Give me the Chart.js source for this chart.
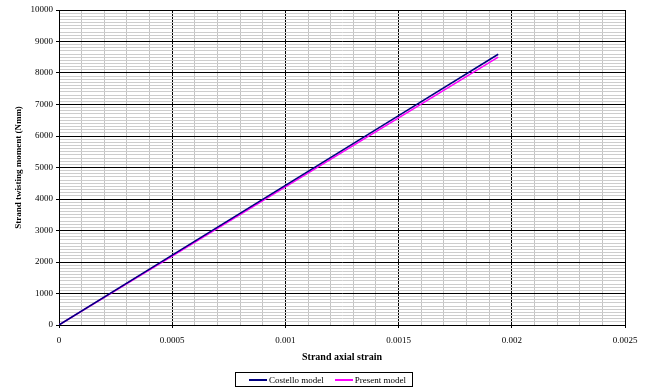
<!DOCTYPE html>
<html>
<head>
<meta charset="utf-8">
<script src="https://cdn.jsdelivr.net/npm/chart.js@4.4.1/dist/chart.umd.min.js"></script>
<style>
    html, body { margin: 0; padding: 0; background: #fff; }
    #wrap { position: relative; width: 648px; height: 390px; }
    #legend {
        position: absolute; left: 235px; top: 372px; width: 176px; height: 13px;
        border: 1px solid #000; font: 9px "Liberation Serif", "Times New Roman", serif;
        color: #000; display: flex; align-items: center; box-sizing: content-box;
    }
    .item { display: flex; align-items: center; }
    .swatch { display: inline-block; width: 18px; height: 0; border-top: 2px solid; margin-right: 2px; }
</style>
</head>
<body>
<div id="wrap">
    <canvas id="chart" width="648" height="390"></canvas>
    <div id="legend"></div>
</div>
<script>
// values
const strain = [0, 0.0005, 0.001, 0.0015, 0.00194];
const costello = [0, 2215, 4430, 6645, 8595];
const present = [0, 2190, 4385, 6575, 8505];
const seriesNames = ['Costello model', 'Present model'];
const seriesColors = ['#000080', '#ff00ff'];

const xMajor = 0.0005, xMinor = 0.0001;
const yMajor = 1000, yMinor = 100;

function isMajor(value, major, minor) {
    return Math.round(value / minor) % Math.round(major / minor) === 0;
}

function toPoints(xs, ys) {
    return xs.map((x, i) => ({ x: x, y: ys[i] }));
}

const serif = '"Liberation Serif", "Times New Roman", serif';

new Chart(document.getElementById('chart'), {
    type: 'scatter',
    data: {
        datasets: [costello, present].map((ys, i) => ({
            label: seriesNames[i],
            data: toPoints(strain, ys),
            showLine: true,
            borderColor: seriesColors[i],
            backgroundColor: seriesColors[i],
            borderWidth: 1.5,
            pointRadius: 0,
            tension: 0
        }))
    },
    options: {
        responsive: false,
        animation: false,
        layout: { padding: { top: 10, right: 23, bottom: 20, left: 0 } },
        plugins: { legend: { display: false }, tooltip: { enabled: false } },
        scales: {
            x: {
                type: 'linear',
                min: 0,
                max: 0.0025,
                afterFit: s => { s.height = 45; },
                border: { color: '#000', width: 1 },
                grid: {
                    color: c => isMajor(c.tick.value, xMajor, xMinor) ? '#000' : '#c4c4c4',
                    tickColor: c => isMajor(c.tick.value, xMajor, xMinor) ? '#000' : 'rgba(0,0,0,0)',
                    tickLength: 3
                },
                ticks: {
                    stepSize: xMinor,
                    autoSkip: false,
                    maxRotation: 0,
                    padding: 7,
                    color: '#000',
                    font: { family: serif, size: 9 },
                    callback: v => isMajor(v, xMajor, xMinor) ? String(Number(v.toFixed(4))) : ''
                },
                title: {
                    display: true,
                    text: 'Strand axial strain',
                    color: '#000',
                    font: { family: serif, size: 10, weight: 'bold' },
                    padding: { top: 0, bottom: 7 }
                }
            },
            y: {
                type: 'linear',
                min: 0,
                max: 10000,
                afterFit: s => { s.width = 59; },
                border: { color: '#000', width: 1 },
                grid: {
                    color: c => isMajor(c.tick.value, yMajor, yMinor) ? '#000' : '#cdcdcd',
                    tickColor: c => isMajor(c.tick.value, yMajor, yMinor) ? '#000' : 'rgba(0,0,0,0)',
                    tickLength: 3
                },
                ticks: {
                    stepSize: yMinor,
                    autoSkip: false,
                    padding: 3,
                    color: '#000',
                    font: { family: serif, size: 9 },
                    callback: v => isMajor(v, yMajor, yMinor) ? String(v) : ''
                },
                title: {
                    display: true,
                    text: 'Strand twisting moment (Nmm)',
                    color: '#000',
                    font: { family: serif, size: 9, weight: 'bold' },
                    padding: { top: 13, bottom: 0 }
                }
            }
        }
    }
});

// legend below the chart, boxed like the original
const legend = document.getElementById('legend');
seriesNames.forEach((name, i) => {
    const item = document.createElement('span');
    item.className = 'item';
    item.style.marginLeft = i === 0 ? '13px' : '11px';
    item.innerHTML = '<span class="swatch" style="border-color:' + seriesColors[i] + '"></span>' + name;
    legend.appendChild(item);
});
</script>
</body>
</html>
